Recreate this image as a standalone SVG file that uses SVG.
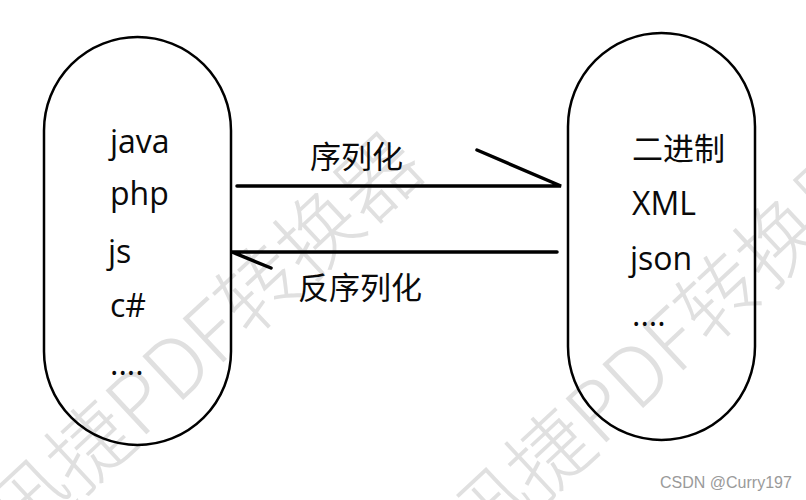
<svg xmlns="http://www.w3.org/2000/svg" width="806" height="500" viewBox="0 0 806 500">
<style>
.bg{fill:#ffffff}
.wm{font-family:"Noto Sans CJK SC",sans-serif;font-size:82px;font-weight:300;fill:#e0e0e0}
.pill{fill:none;stroke:#000;stroke-width:2.5}
.t{font-family:"Open Sans","Noto Sans CJK SC",sans-serif;font-size:32px;fill:#0a0a0a}
.c{font-family:"Noto Sans CJK SC",sans-serif;font-size:31px;fill:#0a0a0a}
.ln{fill:none;stroke:#000;stroke-width:3.5;stroke-linecap:round}
.sig{font-family:"Liberation Sans",sans-serif;font-size:16px;fill:#9a9a9a}
</style>
<rect class="bg" x="0" y="0" width="806" height="500"/>
<g id="watermark">
<text class="wm" transform="translate(20,552) rotate(-43)">迅捷PDF转换器</text>
<text class="wm" transform="translate(480,560) rotate(-43)">迅捷PDF转换器</text>
</g>
<g id="left-node">
<rect class="pill" x="44" y="37" width="187" height="408" rx="93.5" ry="93.5"/>
<text class="t" x="110" y="153">java</text>
<text class="t" x="110" y="205">php</text>
<text class="t" x="108" y="263">js</text>
<text class="t" x="110" y="317">c#</text>
<text class="t" x="110" y="375">....</text>
</g>
<g id="right-node">
<rect class="pill" x="568" y="33" width="187" height="407" rx="93.5" ry="93.5"/>
<text class="c" x="632" y="160">二进制</text>
<text class="t" x="632" y="215">XML</text>
<text class="t" x="630" y="270">json</text>
<text class="t" x="632" y="326">....</text>
</g>
<g id="connectors">
<path class="ln" d="M237,186 L561,186 L477,150"/>
<path class="ln" d="M557,252 L232,252 L271,268"/>
<text class="c" x="310" y="168">序列化</text>
<text class="c" x="298" y="299">反序列化</text>
</g>
<text class="sig" x="660" y="488">CSDN @Curry197</text>
</svg>
